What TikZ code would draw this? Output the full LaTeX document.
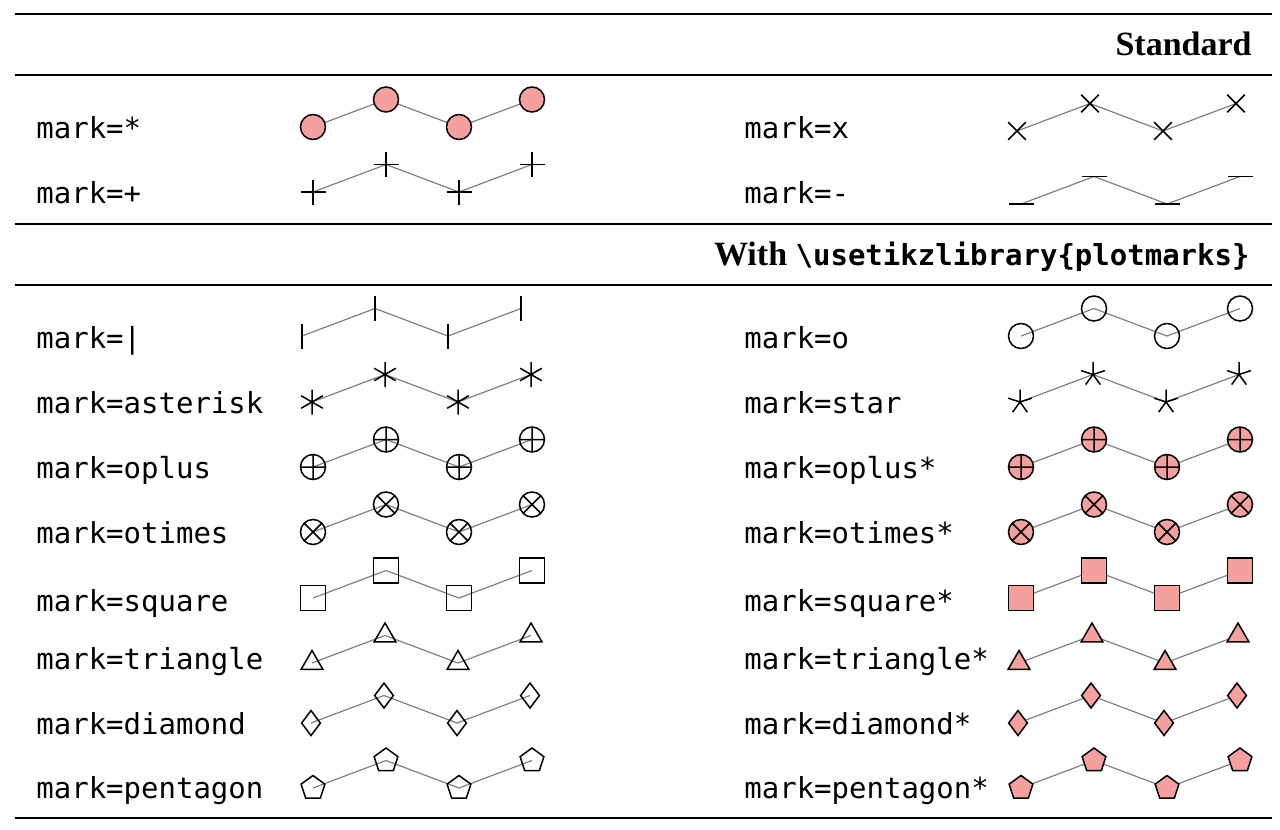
\documentclass[tikz,border=0pt]{standalone}
\usepackage{fontspec}
\setmainfont{Liberation Serif}
\setmonofont{DejaVu Sans Mono}
\usetikzlibrary{plotmarks}
\definecolor{markfill}{RGB}{243,160,158}
\newcommand{\markrow}[4]{\draw [plotline] plot[mark=#3,mark options={#4}] coordinates {(#1,#2) (#1+73,#2-27.5) (#1+146,#2) (#1+219,#2-27.5)};}

\begin{document}
\begin{tikzpicture}[x=0.5pt,y=-0.5pt,
  plotline/.style={gray,line width=0.6pt,mark size=6.25pt},
  openmark/.style={draw=black,line width=0.75pt},
  fillmark/.style={draw=black,fill=markfill,line width=0.75pt},
  lbl/.style={anchor=base west,inner sep=0pt,font=\ttfamily\fontsize{14.5}{17}\selectfont},
  head/.style={anchor=base east,inner sep=0pt,font=\bfseries\fontsize{17}{20}\selectfont}]
\useasboundingbox (0,0) rectangle (1280,830);
\draw [line width=1.25pt] (15,14) -- (1272,14);
\draw [line width=0.8pt] (15,75) -- (1272,75);
\draw [line width=0.8pt] (15,224) -- (1272,224);
\draw [line width=0.8pt] (15,285) -- (1272,285);
\draw [line width=1.25pt] (15,818) -- (1272,818);
\node [head] (hstd) at (1252,55) {Standard};
\node [head] (hlib) at (1250,265) {With {\fontsize{14.5}{17}\ttfamily\bfseries\textbackslash usetikzlibrary\{plotmarks\}}};
% standard marks
\node [lbl] (lstar) at (36,138) {mark=*};
\node [lbl] (lplus) at (36,203) {mark=+};
\node [lbl] (lx) at (744,138) {mark=x};
\node [lbl] (lminus) at (744,203) {mark=-};
\markrow{313}{127}{*}{fillmark}
\markrow{313}{192}{+}{openmark}
\markrow{1017}{131}{x}{openmark}
\markrow{1021}{204}{-}{openmark}
% plotmarks library
\node [lbl] (lbar) at (36,348) {mark=|};
\node [lbl] (last) at (36,413) {mark=asterisk};
\node [lbl] (lop) at (36,478) {mark=oplus};
\node [lbl] (lot) at (36,543) {mark=otimes};
\node [lbl] (lsq) at (36,611) {mark=square};
\node [lbl] (ltri) at (36,669) {mark=triangle};
\node [lbl] (ldia) at (36,734) {mark=diamond};
\node [lbl] (lpen) at (36,798) {mark=pentagon};
\node [lbl] (lo) at (744,348) {mark=o};
\node [lbl] (lstr) at (744,413) {mark=star};
\node [lbl] (lopf) at (744,478) {mark=oplus*};
\node [lbl] (lotf) at (744,543) {mark=otimes*};
\node [lbl] (lsqf) at (744,611) {mark=square*};
\node [lbl] (ltrif) at (744,669) {mark=triangle*};
\node [lbl] (ldiaf) at (744,734) {mark=diamond*};
\node [lbl] (lpenf) at (744,798) {mark=pentagon*};
\markrow{302}{336}{|}{openmark}
\markrow{312}{402}{asterisk}{openmark}
\markrow{313}{467}{oplus}{openmark}
\markrow{313}{532}{otimes}{openmark}
\markrow{313}{598}{square}{openmark}
\markrow{312}{663}{triangle}{openmark}
\markrow{311}{723}{diamond}{openmark}
\markrow{313}{788}{pentagon}{openmark}
\markrow{1021}{336}{o}{openmark}
\markrow{1020}{402}{star}{openmark}
\markrow{1021}{467}{oplus*}{fillmark}
\markrow{1021}{532}{otimes*}{fillmark}
\markrow{1021}{598}{square*}{fillmark}
\markrow{1019}{663}{triangle*}{fillmark}
\markrow{1018}{723}{diamond*}{fillmark}
\markrow{1021}{788}{pentagon*}{fillmark}
%\draw [dashed] (640,75) -- (640,818);
\end{tikzpicture}
\end{document}
